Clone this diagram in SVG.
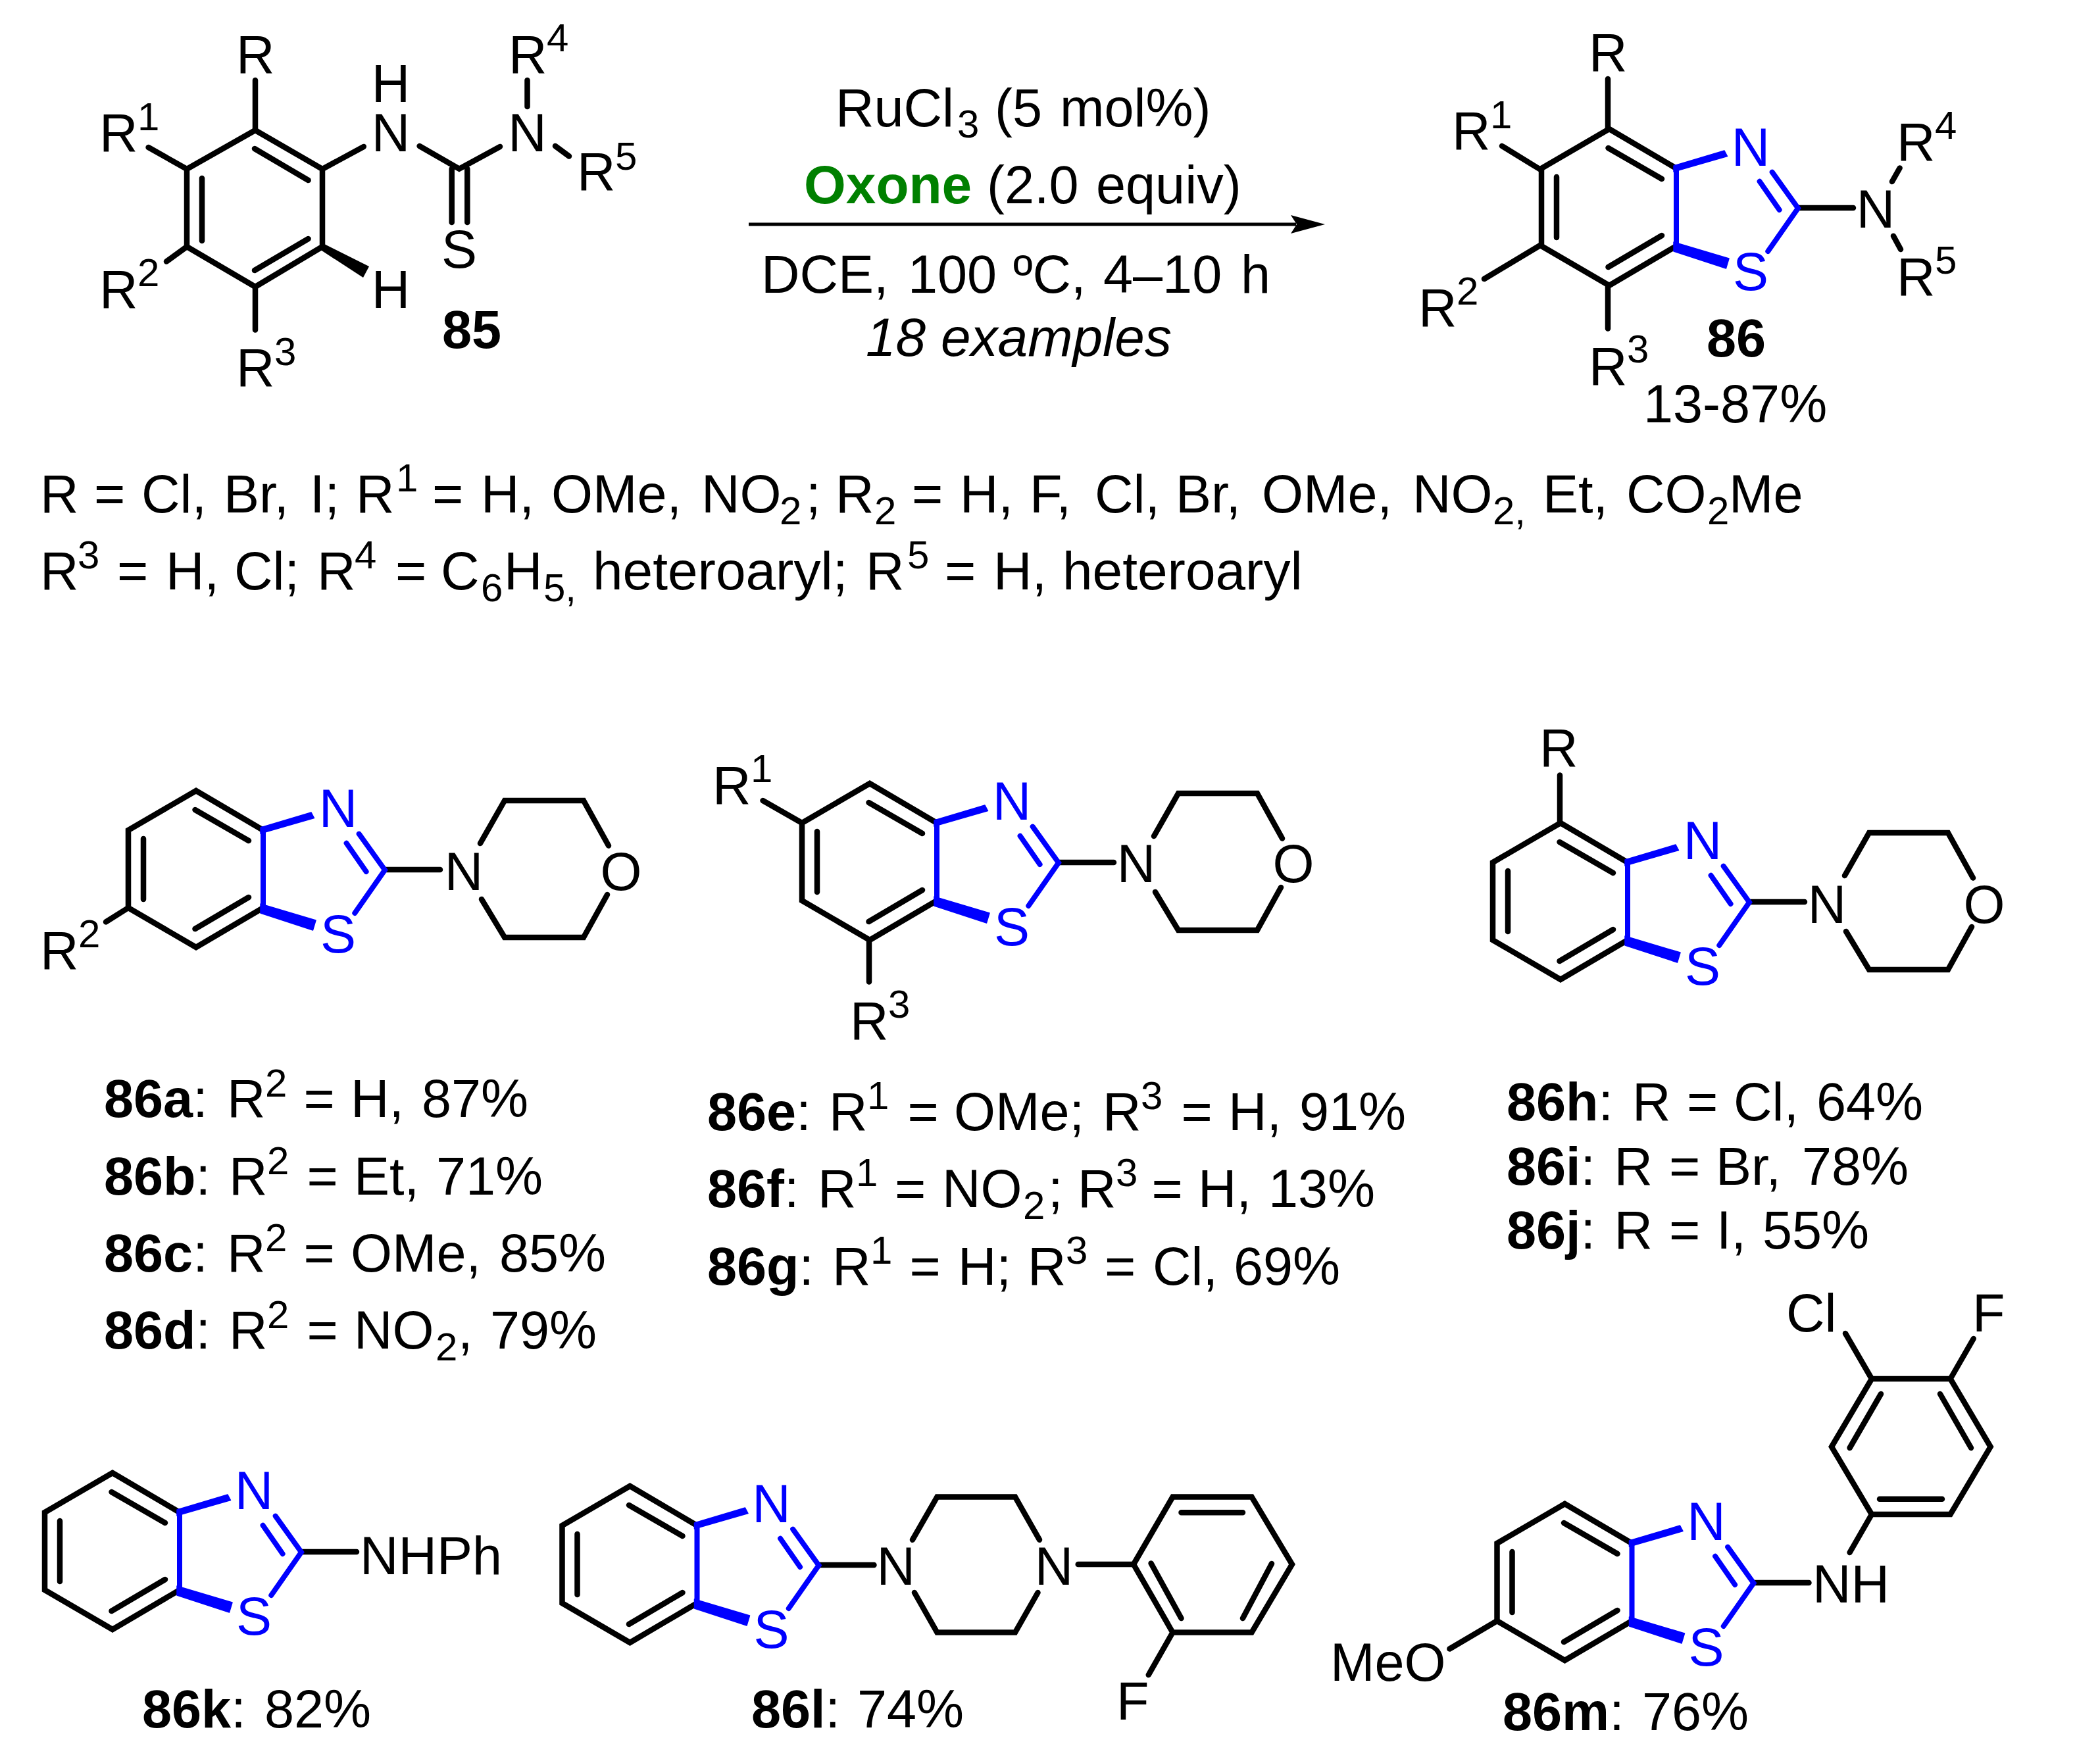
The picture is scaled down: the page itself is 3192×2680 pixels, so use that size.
<svg xmlns="http://www.w3.org/2000/svg" width="3192" height="2680" viewBox="0 0 3192 2680">
<style>
.k{fill:none;stroke:#000;stroke-width:8.500;stroke-linecap:round;stroke-linejoin:miter}
.u{fill:none;stroke:#00f;stroke-width:8;stroke-linecap:round;stroke-linejoin:miter}
.uf{fill:#00f;stroke:#00f;stroke-width:1.500;stroke-linejoin:round}
.kf{fill:#000}
text{font-family:"Liberation Sans",Arial,sans-serif;font-size:81px;fill:#000}
.bl{fill:#00f}
.m{text-anchor:middle}
.w{font-weight:700}
.s{font-size:60px}
.g{fill:#008000;font-weight:700;font-size:82px}
.i{font-style:italic;font-size:82px}
.h{font-size:82px}
</style>
<defs>
<g id="core">
<path class="k" d="M0 0L-102 -60L-205 0V118L-102 178L0 118"/>
<path class="k" d="M-103.500 -31L-22 16M-22 102L-103.500 150M-182 13V105M185 60H269"/>
<path class="u" d="M0 -2V120M145.700 5.600L185 60.500L139.300 126M156.600 63L126.600 19.800"/>
<polygon class="uf" points="-4,-4 73,-27 77.500,-18.500 -4,5"/>
<polygon class="uf" points="-4,112 80,137 75.500,152 -4,126"/>
</g>
<path id="morph" class="k" d="M330 20L367 -45H487L525 23.500M523 98L487 163H367L332 105"/>
</defs>

<g id="connectors">
<path d="M1138 341H1970" fill="none" stroke="#000" stroke-width="5"/>
<polygon class="kf" points="2014,341 1962,327 1971,341 1962,355"/>
</g>

<g id="cpd85">
<path class="k" d="M388 198L490 257V375L388 436L284 375V257ZM387 226L468.600 274M468.600 363L387 411M307 271V366"/>
<path class="k" d="M388 198V122M284 257L225.600 224M284 375L253 397.500M388 436V501.600M490 257L552.800 222.900M637.600 222L698 256.700L760 222.900M801.500 122V162M844 222L865 237.500M686.700 256.700V338M710.300 256.700V338"/>
<polygon class="kf" points="486,379 493,371 561,405 552,422"/>
<text x="359" y="110.600">R</text>
<text x="151" y="230">R<tspan class="s" x="209" y="197.600">1</tspan></text>
<text x="151" y="468">R<tspan class="s" x="209" y="435">2</tspan></text>
<text x="359" y="586.500">R<tspan class="s" x="417" y="554.700">3</tspan></text>
<text class="m" x="594" y="155">H</text>
<text class="m" x="594" y="230">N</text>
<text class="m" x="594" y="468">H</text>
<text class="m" x="801.500" y="230">N</text>
<text x="773" y="110.600">R<tspan class="s" x="831" y="78.400">4</tspan></text>
<text x="877" y="289.400">R<tspan class="s" x="935" y="257.500">5</tspan></text>
<text class="m" x="698" y="407">S</text>
<text class="m w" x="717" y="529">85</text>
</g>

<g id="conditions">
<text x="1270" y="191.700">RuCl<tspan class="s" x="1455" y="209">3</tspan><tspan x="1512" y="191.700">(5</tspan><tspan x="1611">mol%)</tspan></text>
<text x="1222" y="309"><tspan class="g">Oxone</tspan><tspan x="1500">(2.0</tspan><tspan x="1666">equiv)</tspan></text>
<text x="1157" y="445">DCE,<tspan x="1380">100</tspan><tspan x="1540">ºC,</tspan><tspan x="1677">4–10</tspan><tspan x="1886">h</tspan></text>
<text class="i" x="1316" y="541">18<tspan x="1430">examples</tspan></text>
</g>

<g id="cpd86">
<g transform="translate(2548 256)"><use href="#core"/>
<text class="bl m" x="113" y="-4">N</text><text class="bl m" x="113" y="185">S</text></g>
<path class="k" d="M2444 195.500V120M2341 257.500L2283 222M2341 373L2256 424M2444 435.500V499.600M2876 276L2887.600 255.500M2878 358.800L2889 379"/>
<text class="m" x="2851" y="346">N</text>
<text x="2415" y="108">R</text>
<text x="2207" y="227">R<tspan class="s" x="2265" y="195">1</tspan></text>
<text x="2156" y="495.500">R<tspan class="s" x="2214" y="463">2</tspan></text>
<text x="2415" y="584.500">R<tspan class="s" x="2473" y="550.600">3</tspan></text>
<text x="2883" y="243.700">R<tspan class="s" x="2941" y="211">4</tspan></text>
<text x="2883" y="449">R<tspan class="s" x="2941" y="416">5</tspan></text>
<text class="m w" x="2639" y="542">86</text>
<text x="2498" y="642">13-87%</text>
</g>

<g id="scope-legend">
<text x="61" y="779">R<tspan x="143">=</tspan><tspan x="215">Cl,</tspan><tspan x="340">Br,</tspan><tspan x="471">I;</tspan><tspan x="541">R</tspan><tspan class="s" x="602" y="747">1</tspan><tspan x="657" y="779">=</tspan><tspan x="731">H,</tspan><tspan x="838">OMe,</tspan><tspan x="1066">NO</tspan><tspan class="s" x="1185" y="797">2</tspan><tspan x="1225" y="779">;</tspan><tspan x="1270">R</tspan><tspan class="s" x="1329" y="797">2</tspan><tspan x="1386" y="779">=</tspan><tspan x="1459">H,</tspan><tspan x="1565">F,</tspan><tspan x="1664">Cl,</tspan><tspan x="1787">Br,</tspan><tspan x="1918">OMe,</tspan><tspan x="2147">NO</tspan><tspan class="s" x="2269" y="797">2,</tspan><tspan x="2345" y="779">Et,</tspan><tspan x="2472">CO</tspan><tspan class="s" x="2595" y="797">2</tspan><tspan x="2628" y="779">Me</tspan></text>
<text x="61" y="896">R<tspan class="s" x="118" y="864">3</tspan><tspan x="178" y="896">=</tspan><tspan x="252">H,</tspan><tspan x="356">Cl;</tspan><tspan x="482">R</tspan><tspan class="s" x="539" y="864">4</tspan><tspan x="601" y="896">=</tspan><tspan x="670">C</tspan><tspan class="s" x="731" y="914">6</tspan><tspan x="766" y="896">H</tspan><tspan class="s" x="826" y="914">5,</tspan><tspan class="h" x="901" y="896">heteroaryl;</tspan><tspan x="1316">R</tspan><tspan class="s" x="1379" y="864">5</tspan><tspan x="1436" y="896">=</tspan><tspan x="1510">H,</tspan><tspan class="h" x="1615">heteroaryl</tspan></text>
</g>

<g id="cpd86a-d">
<g transform="translate(400 1262)"><use href="#core"/><use href="#morph"/>
<text class="bl m" x="114" y="-5">N</text><text class="bl m" x="114" y="186">S</text><text class="m" x="305" y="91">N</text><text class="m" x="544" y="91">O</text></g>
<path class="k" d="M195 1380L161 1401.400"/>
<text x="61" y="1473">R<tspan class="s" x="119" y="1440">2</tspan></text>
<text x="158" y="1698"><tspan class="w">86a</tspan>:<tspan x="345">R</tspan><tspan class="s" x="403" y="1667">2</tspan><tspan x="461.500" y="1698">=</tspan><tspan x="533">H,</tspan><tspan x="641">87%</tspan></text>
<text x="158" y="1816"><tspan class="w">86b</tspan>:<tspan x="348">R</tspan><tspan class="s" x="406" y="1785">2</tspan><tspan x="466.500" y="1816">=</tspan><tspan x="538">Et,</tspan><tspan x="663">71%</tspan></text>
<text x="158" y="1933"><tspan class="w">86c</tspan>:<tspan x="345">R</tspan><tspan class="s" x="403" y="1902">2</tspan><tspan x="461.500" y="1933">=</tspan><tspan x="533">OMe,</tspan><tspan x="759">85%</tspan></text>
<text x="158" y="2050"><tspan class="w">86d</tspan>:<tspan x="348">R</tspan><tspan class="s" x="406" y="2019">2</tspan><tspan x="466.500" y="2050">=</tspan><tspan x="538">NO</tspan><tspan class="s" x="662" y="2068">2</tspan><tspan x="696" y="2050">,</tspan><tspan x="745">79%</tspan></text>
</g>

<g id="cpd86e-g">
<g transform="translate(1424 1251)"><use href="#core"/><use href="#morph"/>
<text class="bl m" x="114" y="-5">N</text><text class="bl m" x="114" y="186">S</text><text class="m" x="303" y="90">N</text><text class="m" x="542" y="90">O</text></g>
<path class="k" d="M1219 1251L1159.500 1217M1321 1429V1492.500"/>
<text x="1083" y="1222">R<tspan class="s" x="1141" y="1188.500">1</tspan></text>
<text x="1292" y="1579.500">R<tspan class="s" x="1350" y="1547">3</tspan></text>
<text x="1075" y="1718"><tspan class="w">86e</tspan>:<tspan x="1260">R</tspan><tspan class="s" x="1318" y="1686">1</tspan><tspan x="1379.500" y="1718">=</tspan><tspan x="1450">OMe;</tspan><tspan x="1676">R</tspan><tspan class="s" x="1734" y="1686">3</tspan><tspan x="1795.500" y="1718">=</tspan><tspan x="1867">H,</tspan><tspan x="1975">91%</tspan></text>
<text x="1075" y="1835"><tspan class="w">86f</tspan>:<tspan x="1243">R</tspan><tspan class="s" x="1301" y="1803">1</tspan><tspan x="1360" y="1835">=</tspan><tspan x="1432">NO</tspan><tspan class="s" x="1555" y="1853">2</tspan><tspan x="1593" y="1835">;</tspan><tspan x="1638">R</tspan><tspan class="s" x="1696" y="1803">3</tspan><tspan x="1750.500" y="1835">=</tspan><tspan x="1821">H,</tspan><tspan x="1928">13%</tspan></text>
<text x="1075" y="1953"><tspan class="w">86g</tspan>:<tspan x="1265">R</tspan><tspan class="s" x="1323" y="1921">1</tspan><tspan x="1382.500" y="1953">=</tspan><tspan x="1456">H;</tspan><tspan x="1562">R</tspan><tspan class="s" x="1620" y="1921">3</tspan><tspan x="1679" y="1953">=</tspan><tspan x="1752">Cl,</tspan><tspan x="1875">69%</tspan></text>
</g>

<g id="cpd86h-j">
<g transform="translate(2474 1311)"><use href="#core"/><use href="#morph"/>
<text class="bl m" x="114" y="-5">N</text><text class="bl m" x="114" y="186">S</text><text class="m" x="303" y="92">N</text><text class="m" x="542" y="92">O</text></g>
<path class="k" d="M2371 1252V1178.600"/>
<text x="2340" y="1165">R</text>
<text x="2290" y="1703"><tspan class="w">86h</tspan>:<tspan x="2481">R</tspan><tspan x="2564">=</tspan><tspan x="2635">Cl,</tspan><tspan x="2761">64%</tspan></text>
<text x="2290" y="1801"><tspan class="w">86i</tspan>:<tspan x="2453.500">R</tspan><tspan x="2537">=</tspan><tspan x="2608">Br,</tspan><tspan x="2739">78%</tspan></text>
<text x="2290" y="1898"><tspan class="w">86j</tspan>:<tspan x="2453.500">R</tspan><tspan x="2537">=</tspan><tspan x="2609">I,</tspan><tspan x="2679">55%</tspan></text>
</g>

<g id="cpd86k">
<g transform="translate(273 2299)"><use href="#core"/>
<text class="bl m" x="113" y="-5">N</text><text class="bl m" x="113" y="186">S</text></g>
<text x="547" y="2393">NHPh</text>
<text x="216" y="2626"><tspan class="w">86k</tspan>:<tspan x="402">82%</tspan></text>
</g>

<g id="cpd86l">
<g transform="translate(1059.500 2319)"><use href="#core"/>
<text class="bl m" x="113" y="-5">N</text><text class="bl m" x="113" y="186">S</text></g>
<path class="k" d="M1387 2340.700L1424.400 2275.500H1543L1580 2340.700M1577.500 2421L1543 2481.500H1424.400L1390 2421M1638.700 2378H1723"/>
<path class="k" d="M1723 2378L1782.500 2275.500H1902.600L1964 2378L1902.600 2481.500H1782.500ZM1795.500 2299.300H1889M1749.600 2376.500L1795.500 2460M1933 2377L1889 2460M1782.500 2481.500L1745.800 2546"/>
<text class="m" x="1361.700" y="2409">N</text>
<text class="m" x="1602" y="2409">N</text>
<text x="1697" y="2614">F</text>
<text x="1142" y="2626"><tspan class="w">86l</tspan>:<tspan x="1303">74%</tspan></text>
</g>

<g id="cpd86m">
<g transform="translate(2480.500 2346)"><use href="#core"/>
<text class="bl m" x="113" y="-5">N</text><text class="bl m" x="113" y="186">S</text></g>
<path class="k" d="M2275.500 2464L2203.400 2506.500"/>
<path class="k" d="M2845 2302L2784 2199.300L2845 2096H2964.600L3025.600 2199.300L2964.600 2302ZM2859 2119L2811.600 2201M2949 2119L2996 2201M2857 2278.700H2952M2845 2302L2811.600 2360M2845 2096L2805 2027M2964.600 2096L2999.700 2035"/>
<text x="2022" y="2555">MeO</text>
<text x="2755" y="2435.800">NH</text>
<text x="2715" y="2023.500">Cl</text>
<text x="2998" y="2023.500">F</text>
<text x="2284" y="2629.500"><tspan class="w">86m</tspan>:<tspan x="2496">76%</tspan></text>
</g>
</svg>
